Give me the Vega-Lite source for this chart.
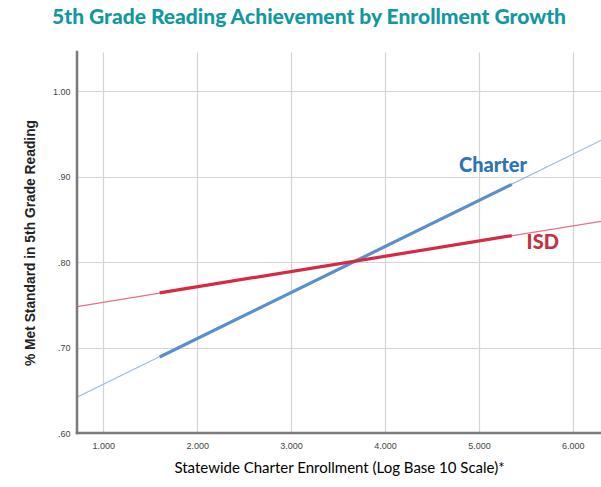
{
  "$schema": "https://vega.github.io/schema/vega-lite/v6.json",
  "width": 524,
  "height": 381,
  "autosize": {"type": "none"},
  "padding": {"left": 77, "top": 52, "right": 0, "bottom": 54},
  "background": "white",
  "title": {
    "text": "5th Grade Reading Achievement by Enrollment Growth",
    "font": "Lato",
    "fontSize": 21,
    "fontWeight": 900,
    "color": "#12989e",
    "anchor": "middle",
    "dx": -30,
    "offset": 22
  },
  "config": {
    "view": {"stroke": null},
    "axis": {
      "domain": false,
      "gridColor": "#d4d4d4",
      "gridWidth": 1.2,
      "tickSize": 0,
      "labelFont": "Liberation Sans",
      "labelFontSize": 9,
      "labelColor": "#444444"
    }
  },
  "datasets": {
    "lines": [
      {"series": "Charter", "part": "fit", "key": "Charter fit", "x": 0.72, "y": 0.642},
      {"series": "Charter", "part": "fit", "key": "Charter fit", "x": 6.31, "y": 0.943},
      {"series": "Charter", "part": "range", "key": "Charter range", "x": 1.6, "y": 0.689},
      {"series": "Charter", "part": "range", "key": "Charter range", "x": 5.35, "y": 0.891},
      {"series": "ISD", "part": "fit", "key": "ISD fit", "x": 0.72, "y": 0.748},
      {"series": "ISD", "part": "fit", "key": "ISD fit", "x": 6.31, "y": 0.848},
      {"series": "ISD", "part": "range", "key": "ISD range", "x": 1.6, "y": 0.764},
      {"series": "ISD", "part": "range", "key": "ISD range", "x": 5.35, "y": 0.831}
    ],
    "labels": [
      {"label": "Charter", "x": 5.15, "y": 0.913},
      {"label": "ISD", "x": 5.68, "y": 0.822}
    ],
    "axislines": [
      {"x": 0.72, "x2": 0.72, "y": 0.6, "y2": 1.046},
      {"x": 0.72, "x2": 6.3, "y": 0.6, "y2": 0.6}
    ]
  },
  "layer": [
    {
      "data": {"name": "lines"},
      "mark": {"type": "line", "clip": true},
      "encoding": {
        "x": {
          "field": "x",
          "type": "quantitative",
          "scale": {"domain": [0.72, 6.3], "nice": false, "zero": false},
          "axis": {
            "values": [1, 2, 3, 4, 5, 6],
            "labelExpr": "format(datum.value, '.0f') + '.000'",
            "title": "Statewide Charter Enrollment (Log Base 10 Scale)*",
            "titleFont": "Lato",
            "titleFontSize": 15,
            "titleFontWeight": "normal",
            "titleColor": "#000000",
            "titlePadding": 10,
            "labelPadding": 8
          }
        },
        "y": {
          "field": "y",
          "type": "quantitative",
          "scale": {"domain": [0.6, 1.046], "nice": false, "zero": false},
          "axis": {
            "values": [0.6, 0.7, 0.8, 0.9, 1.0],
            "labelExpr": "datum.value >= 1 ? '1.00' : replace(format(datum.value, '.2f'), '0.', '.')",
            "title": "% Met Standard in 5th Grade Reading",
            "titleFont": "Liberation Sans",
            "titleFontSize": 13.8,
            "titleFontWeight": "bold",
            "titleColor": "#222222",
            "titlePadding": 15,
            "labelPadding": 7
          }
        },
        "detail": {"field": "key"},
        "color": {
          "field": "key",
          "type": "nominal",
          "scale": {
            "domain": ["Charter fit", "Charter range", "ISD fit", "ISD range"],
            "range": ["#a3bde0", "#5b8fcc", "#e27086", "#d32a46"]
          },
          "legend": null
        },
        "strokeWidth": {
          "field": "part",
          "type": "nominal",
          "scale": {"domain": ["fit", "range"], "range": [1.2, 3.2]},
          "legend": null
        },
        "order": {"field": "x"}
      }
    },
    {
      "data": {"name": "axislines"},
      "mark": {"type": "rule", "color": "#7a7a7a", "strokeWidth": 2.5, "strokeCap": "square"},
      "encoding": {
        "x": {"field": "x", "type": "quantitative"},
        "x2": {"field": "x2"},
        "y": {"field": "y", "type": "quantitative"},
        "y2": {"field": "y2"}
      }
    },
    {
      "data": {"name": "labels"},
      "mark": {"type": "text", "font": "Lato", "fontSize": 20, "fontWeight": 900},
      "encoding": {
        "x": {"field": "x", "type": "quantitative"},
        "y": {"field": "y", "type": "quantitative"},
        "text": {"field": "label"},
        "color": {
          "field": "label",
          "type": "nominal",
          "scale": {"domain": ["Charter", "ISD"], "range": ["#2e73b5", "#c4323f"]},
          "legend": null
        }
      }
    }
  ],
  "resolve": {"scale": {"color": "independent"}}
}
